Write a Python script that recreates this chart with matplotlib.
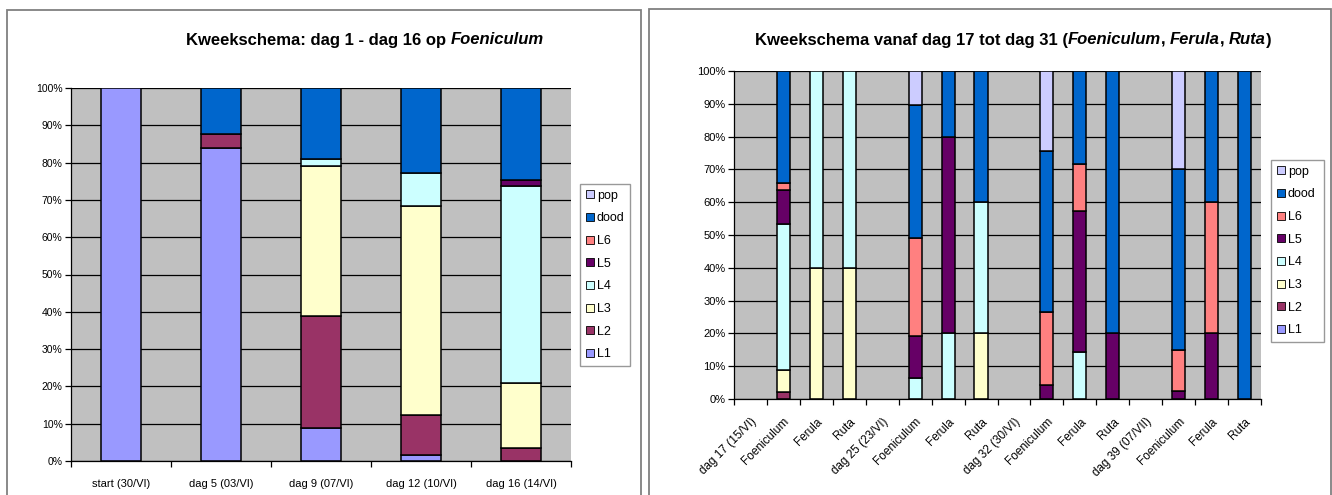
import matplotlib.pyplot as plt
from matplotlib.patches import Rectangle
import numpy as np

plt.rcParams['font.family'] = ['Liberation Sans', 'DejaVu Sans']

W, H = 1332, 495

# stadia, onder naar boven gestapeld
stadia = ['L1', 'L2', 'L3', 'L4', 'L5', 'L6', 'dood', 'pop']
kleuren = ['#9999FF', '#993366', '#FFFFCC', '#CCFFFF', '#660066', '#FF8080', '#0066CC', '#CCCCFF']

# --- grafiek 1: dag 1 - dag 16 ---
links_cat = ['start (30/VI)', 'dag 5 (03/VI)', 'dag 9 (07/VI)', 'dag 12 (10/VI)', 'dag 16 (14/VI)']
links_L1 = [100, 84.0, 8.8, 1.7, 0]
links_L2 = [0, 3.7, 30.0, 10.5, 3.5]
links_L3 = [0, 0, 40.4, 56.2, 17.5]
links_L4 = [0, 0, 1.7, 8.8, 52.6]
links_L5 = [0, 0, 0, 0, 1.8]
links_L6 = [0, 0, 0, 0, 0]
links_dood = [0, 12.3, 19.1, 22.8, 24.6]
links_pop = [0, 0, 0, 0, 0]

# --- grafiek 2: dag 17 - dag 31 ---
rechts_cat = ['dag 17 (15/VI)', 'Foeniculum', 'Ferula', 'Ruta',
              'dag 25 (23/VI)', 'Foeniculum', 'Ferula', 'Ruta',
              'dag 32 (30/VI)', 'Foeniculum', 'Ferula', 'Ruta',
              'dag 39 (07/VII)', 'Foeniculum', 'Ferula', 'Ruta']
rechts_L1 = [0, 0, 0, 0, 0, 0, 0, 0, 0, 0, 0, 0, 0, 0, 0, 0]
rechts_L2 = [0, 2.2, 0, 0, 0, 0, 0, 0, 0, 0, 0, 0, 0, 0, 0, 0]
rechts_L3 = [0, 6.5, 40, 40, 0, 0, 0, 20, 0, 0, 0, 0, 0, 0, 0, 0]
rechts_L4 = [0, 44.6, 60, 60, 0, 6.4, 20, 40, 0, 0, 14.3, 0, 0, 0, 0, 0]
rechts_L5 = [0, 10.4, 0, 0, 0, 12.9, 60, 0, 0, 4.4, 42.9, 20, 0, 2.3, 20, 0]
rechts_L6 = [0, 2.2, 0, 0, 0, 29.8, 0, 0, 0, 22.2, 14.3, 0, 0, 12.7, 40, 0]
rechts_dood = [0, 34.1, 0, 0, 0, 40.4, 20, 40, 0, 48.9, 28.6, 80, 0, 55.0, 40, 100]
rechts_pop = [0, 0, 0, 0, 0, 10.5, 0, 0, 0, 24.5, 0, 0, 0, 30.0, 0, 0]

links_reeksen = [links_L1, links_L2, links_L3, links_L4, links_L5, links_L6, links_dood, links_pop]
rechts_reeksen = [rechts_L1, rechts_L2, rechts_L3, rechts_L4, rechts_L5, rechts_L6, rechts_dood, rechts_pop]

fig = plt.figure(figsize=(W / 100, H / 100), dpi=100)


def px(x0, y0, x1, y1):
    # pixelkader -> figuurcoördinaten [links, onder, breedte, hoogte]
    return [x0 / W, 1 - y1 / H, (x1 - x0) / W, (y1 - y0) / H]


def kader(x0, y0, x1, y1):
    fig.add_artist(Rectangle((x0 / W, 1 - y1 / H), (x1 - x0) / W, (y1 - y0) / H,
                             transform=fig.transFigure, fill=False,
                             edgecolor='#808080', linewidth=1.3))


def gestapeld(ax, categorieen, reeksen, rot, yfont):
    x = np.arange(len(categorieen))
    onder = np.zeros(len(categorieen))
    for naam, kleur, waarden in zip(stadia, kleuren, reeksen):
        w = np.array(waarden, dtype=float)
        m = w > 0
        ax.bar(x[m], w[m], bottom=onder[m], width=0.4, color=kleur,
               edgecolor='black', linewidth=1.1, zorder=3)
        onder += w
    ax.set_facecolor('#C0C0C0')
    ax.set_xlim(-0.5, len(categorieen) - 0.5)
    ax.set_ylim(0, 100)
    ax.set_yticks(np.arange(0, 101, 10))
    ax.set_yticklabels([f'{v}%' for v in range(0, 101, 10)], fontsize=yfont)
    ax.yaxis.grid(True, color='black', linewidth=0.9, zorder=1)
    ax.set_axisbelow(True)
    ax.set_xticks(x)
    if rot:
        ax.set_xticklabels(categorieen, fontsize=8.5, rotation=45, ha='right',
                           rotation_mode='anchor')
        ax.tick_params(axis='x', which='major', length=0, pad=12)
    else:
        ax.set_xticklabels(categorieen, fontsize=8)
        ax.tick_params(axis='x', which='major', length=0, pad=13)
    ax.set_xticks(np.arange(-0.5, len(categorieen)), minor=True)
    ax.tick_params(axis='x', which='minor', length=4, width=0.9, color='black')
    ax.tick_params(axis='y', length=4, width=0.9, pad=2)
    for s in ['top', 'right']:
        ax.spines[s].set_visible(False)
    for s in ['left', 'bottom']:
        ax.spines[s].set_color('black')
        ax.spines[s].set_linewidth(0.9)
        ax.spines[s].set_zorder(4)


def legenda(x0, y0, x1, y1):
    handles = [Rectangle((0, 0), 1, 1, facecolor=k, edgecolor='black', linewidth=0.6)
               for k in kleuren][::-1]
    lg = fig.legend(handles, stadia[::-1], loc='center', fontsize=9,
                    bbox_to_anchor=px(x0, y0, x1, y1), mode='expand',
                    handlelength=0.6, handleheight=0.6, handletextpad=0.25,
                    labelspacing=0.85, borderpad=0.5, fancybox=False,
                    borderaxespad=0)
    lg.get_frame().set_edgecolor('#808080')
    lg.get_frame().set_linewidth(1.0)


def titel(xc, yc, stukken, size=12):
    teksten = [fig.text(0, 1 - yc / H, s, fontsize=size, fontweight='bold',
                        style=st, ha='left', va='center') for s, st in stukken]
    fig.canvas.draw()
    r = fig.canvas.get_renderer()
    breedtes = [t.get_window_extent(r).width for t in teksten]
    x = xc - sum(breedtes) / 2
    for t, b in zip(teksten, breedtes):
        t.set_x(x / W)
        x += b


kader(7, 10, 641, 520)
kader(649, 9, 1331, 520)

ax1 = fig.add_axes(px(71, 88, 571, 461))
gestapeld(ax1, links_cat, links_reeksen, False, 7.5)
legenda(580, 183, 630, 367)

ax2 = fig.add_axes(px(734, 71, 1261, 399))
gestapeld(ax2, rechts_cat, rechts_reeksen, True, 8)
legenda(1271, 162, 1324, 340)

titel(365, 40, [('Kweekschema: dag 1 - dag 16 op ', 'normal'), ('Foeniculum', 'italic')])
titel(1013, 40, [('Kweekschema vanaf dag 17 tot dag 31 (', 'normal'), ('Foeniculum', 'italic'),
                 (', ', 'normal'), ('Ferula', 'italic'), (', ', 'normal'),
                 ('Ruta', 'italic'), (')', 'normal')])

fig.savefig('out.png', dpi=100)
